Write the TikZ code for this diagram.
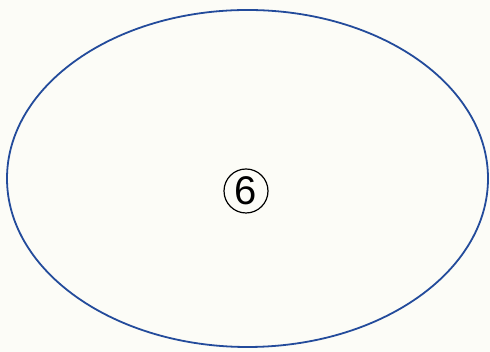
\documentclass[tikz,border=0pt]{standalone}
\usepackage{fontspec}
\setsansfont{Liberation Sans}
\usetikzlibrary{shapes.geometric}
\definecolor{paper}{RGB}{252,252,247}
\definecolor{ringblue}{RGB}{35,75,155}
\begin{document}
\begin{tikzpicture}[x=1pt,y=1pt,
  outline/.style={draw=ringblue,line width=1.8pt},
  numring/.style={circle,draw=black,line width=1.2pt,minimum size=44pt,inner sep=0pt,font=\sffamily\fontsize{40}{40}\selectfont}]
  \fill[paper] (0,0) rectangle (490,352);
  \useasboundingbox (0,0) rectangle (490,352);
  \node[ellipse,outline,minimum width=481pt,minimum height=337pt,inner sep=0pt] (oval) at (247.5,173.5) {};
  \node[numring] (six) at (246,161) {6};
\end{tikzpicture}
\end{document}
